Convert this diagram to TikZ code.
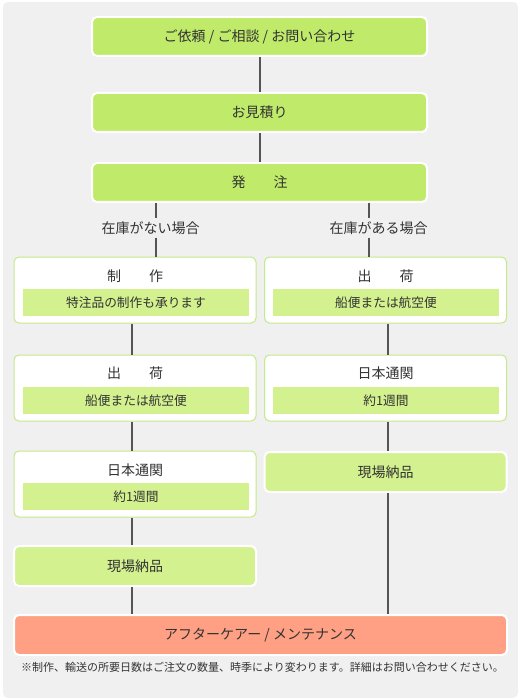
\documentclass[tikz,border=0pt]{standalone}
\usepackage{fontspec}
\setmainfont{Noto Sans CJK JP}
\usetikzlibrary{positioning}
\definecolor{cLime}{HTML}{C0EB6A}
\definecolor{cLight}{HTML}{D3F18F}
\definecolor{cBorder}{HTML}{C4E98A}
\definecolor{cSalmon}{HTML}{FFA084}
\definecolor{cBg}{HTML}{F0F0F0}
\definecolor{cText}{HTML}{333333}
\definecolor{cLine}{HTML}{555555}
\tikzset{
  mainbox/.style={
    draw=white, fill=#1, rounded corners=5pt,
    minimum width=335pt, minimum height=39pt,
    font=\fontsize{14}{16}\selectfont, text=cText, line width=2pt,
    inner sep=0pt,
  },
  mainbox/.default=cLime,
  stepbox/.style={
    draw=cBorder, fill=white, rounded corners=5pt,
    minimum width=242pt, minimum height=66pt,
    line width=1pt, inner sep=0pt,
  },
  titletext/.style={
    font=\fontsize{14}{16}\selectfont, text=cText, inner sep=0pt,
  },
  bandbox/.style={
    fill=cLight, minimum width=226pt, minimum height=27pt,
    font=\fontsize{12.7}{14}\selectfont, text=cText, inner sep=0pt,
  },
  sitebox/.style={
    draw=white, fill=cLight, rounded corners=5pt,
    minimum width=242pt, minimum height=40pt,
    font=\fontsize{14}{16}\selectfont, text=cText, line width=2pt,
    inner sep=0pt,
  },
  caselabel/.style={
    font=\fontsize{14}{16}\selectfont, text=cText, inner sep=3pt,
  },
  link/.style={draw=cLine, line width=2pt},
}

\begin{document}
\begin{tikzpicture}[x=1pt, y=-1pt]

  % Frame
  \useasboundingbox (0,0) rectangle (520,700);
  \fill[cBg, rounded corners=5pt] (3,2) rectangle (518,698);

  % Common steps
  \node[mainbox] (inquiry) at (259.5,36.5) {ご依頼 / ご相談 / お問い合わせ};
  \node[mainbox] (quote) at (259.5,112.5) {お見積り};
  \node[mainbox] (order) at (259.5,182.5) {発　　注};

  % Branch labels
  \node[caselabel] (nostock) at (150.5,228) {在庫がない場合};
  \node[caselabel] (instock) at (378.5,228) {在庫がある場合};
  \coordinate (nostockx) at (156,0);
  \coordinate (instockx) at (369,0);

  % Left column: no stock
  \node[stepbox] (make) at (135,290) {};
  \node[titletext] (maketitle) at (135,276) {制　　作};
  \node[bandbox] (makeband) at (136,302.5) {特注品の制作も承ります};

  \node[stepbox] (leftship) at (135,388) {};
  \node[titletext] (leftshiptitle) at (135,373) {出　　荷};
  \node[bandbox] (leftshipband) at (136,400.5) {船便または航空便};

  \node[stepbox] (leftcustoms) at (135,484) {};
  \node[titletext] (leftcustomstitle) at (135,470) {日本通関};
  \node[bandbox] (leftcustomsband) at (136,496.5) {約1週間};

  \node[sitebox] (leftsite) at (135,566) {現場納品};

  % Right column: in stock
  \node[stepbox] (rightship) at (385.5,290) {};
  \node[titletext] (rightshiptitle) at (385.5,276) {出　　荷};
  \node[bandbox] (rightshipband) at (386,302.5) {船便または航空便};

  \node[stepbox] (rightcustoms) at (385.5,388) {};
  \node[titletext] (rightcustomstitle) at (385.5,373) {日本通関};
  \node[bandbox] (rightcustomsband) at (386,400.5) {約1週間};

  \node[sitebox] (rightsite) at (385.5,472) {現場納品};

  % After care
  \node[mainbox=cSalmon, minimum width=493pt, minimum height=40pt]
    (care) at (260.5,635) {アフターケアー / メンテナンス};

  \node[anchor=west, font=\fontsize{11}{13}\selectfont, text=cText, inner sep=0pt]
    (note) at (21,667) {※制作、輸送の所要日数はご注文の数量、時季により変わります。詳細はお問い合わせください。};

  % Connectors
  \draw[link] (inquiry) -- (quote);
  \draw[link] (quote) -- (order);
  \draw[link] (order.south -| nostockx) -- (nostock.north -| nostockx);
  \draw[link] (nostock.south -| nostockx) -- (make.north -| nostockx);
  \draw[link] (order.south -| instockx) -- (instock.north -| instockx);
  \draw[link] (instock.south -| instockx) -- (rightship.north -| instockx);
  \draw[link] ([xshift=-3pt]make.south) -- ([xshift=-3pt]leftship.north);
  \draw[link] ([xshift=-3pt]leftship.south) -- ([xshift=-3pt]leftcustoms.north);
  \draw[link] ([xshift=-3pt]leftcustoms.south) -- ([xshift=-3pt]leftsite.north);
  \draw[link] ([xshift=-3pt]leftsite.south) -- ([xshift=-3pt]care.north -| leftsite);
  \draw[link] ([xshift=2.5pt]rightship.south) -- ([xshift=2.5pt]rightcustoms.north);
  \draw[link] ([xshift=2.5pt]rightcustoms.south) -- ([xshift=2.5pt]rightsite.north);
  \draw[link] ([xshift=2.5pt]rightsite.south) -- ([xshift=2.5pt]care.north -| rightsite);

\end{tikzpicture}
\end{document}
